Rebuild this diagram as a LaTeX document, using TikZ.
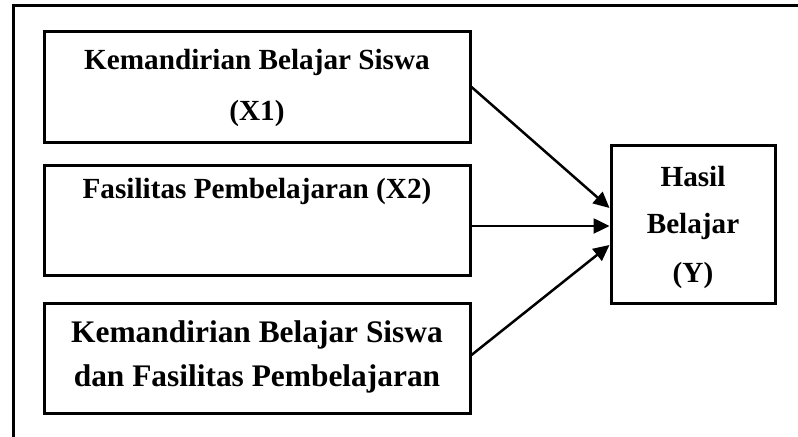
\documentclass[tikz,border=0pt]{standalone}
\usepackage{fontspec}
\setmainfont{Liberation Serif}
\usetikzlibrary{arrows.meta}
\begin{document}
\begin{tikzpicture}[x=0.5pt,y=-0.5pt,
  varbox/.style={draw,line width=1.5pt,rectangle,inner sep=0pt,align=center,font=\bfseries},
  lbl/.style={font=\fontsize{14.6pt}{17pt}\selectfont\bfseries,align=center},
  link/.style={line width=1.25pt,-{Triangle[length=8pt,width=7.5pt]}}]
\useasboundingbox (0,0) rectangle (798,437);
% outer frame (top and left edges)
\draw[line width=1.5pt] (13,437) -- (13,6) -- (798,6);
% independent variables
\node[varbox,minimum width=213pt,minimum height=55.5pt] (x1) at (257,87.5) {};
\node[lbl] (t1) at (257,62) {Kemandirian Belajar Siswa};
\node[lbl] (t1b) at (257,113) {(X1)};
\node[varbox,minimum width=213pt,minimum height=55pt] (x2) at (257,221) {};
\node[lbl] (t2) at (257,191) {Fasilitas Pembelajaran (X2)};
\node[varbox,minimum width=213pt,minimum height=55pt] (x3) at (257,359) {};
\node[font=\fontsize{15.7pt}{22pt}\selectfont\bfseries,align=center] (t3) at (257,357) {Kemandirian Belajar Siswa\\dan Fasilitas Pembelajaran};
% dependent variable
\node[varbox,minimum width=82pt,minimum height=79pt] (y) at (693,225) {};
\node[lbl] (ty1) at (693,177) {Hasil};
\node[lbl] (ty2) at (693,226) {Belajar};
\node[lbl] (ty3) at (693,275) {(Y)};
% connectors
\coordinate (a1) at (x1.east |- 0,87);
\coordinate (b1) at (y.west |- 0,208);
\coordinate (a2) at (x2.east |- 0,226);
\coordinate (b2) at (y.west |- 0,226);
\coordinate (a3) at (x3.east |- 0,355);
\coordinate (b3) at (y.west |- 0,245);
\draw[link] (a1) -- (b1);
\draw[link] (a2) -- (b2);
\draw[link] (a3) -- (b3);
\end{tikzpicture}
\end{document}
